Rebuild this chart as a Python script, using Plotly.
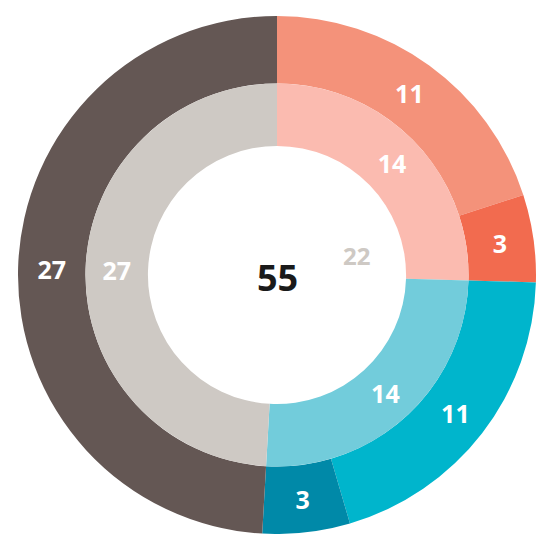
import plotly.graph_objects as go

# Outer ring
outer_labels = ["A1", "A2", "B1", "B2", "C"]
outer_values = [11, 3, 11, 3, 27]
outer_colors = ["#F4927A", "#F26B4F", "#00B5CC", "#0089A8", "#645754"]

# Inner ring
inner_labels = ["A", "B", "C"]
inner_values = [14, 14, 27]
inner_colors = ["#FBBBB0", "#72CCDB", "#CEC9C4"]

total_value = 55
side_value = 22

font_family = "Open Sans, Roboto, Arial, sans-serif"

fig = go.Figure()
fig.add_trace(go.Pie(
    labels=outer_labels, values=outer_values,
    marker=dict(colors=outer_colors, line=dict(width=0)),
    hole=0.7395, sort=False, direction="clockwise", rotation=0,
    textinfo="value", textposition="inside", insidetextorientation="horizontal",
    textfont=dict(color="white", size=25, family=font_family, weight="bold"),
    domain=dict(x=[0, 1], y=[0, 1]),
    showlegend=False, hoverinfo="label+value",
))
fig.add_trace(go.Pie(
    labels=inner_labels, values=inner_values,
    marker=dict(colors=inner_colors, line=dict(width=0)),
    hole=0.674, sort=False, direction="clockwise", rotation=0,
    textinfo="value", textposition="inside", insidetextorientation="horizontal",
    textfont=dict(color="white", size=25, family=font_family, weight="bold"),
    domain=dict(x=[0.1303, 0.8697], y=[0.1303, 0.8697]),
    showlegend=False, hoverinfo="label+value",
))

fig.add_annotation(
    text=str(total_value), x=0.5, y=0.496, xref="paper", yref="paper",
    showarrow=False, font=dict(size=36, color="#1a1a1a", family=font_family, weight="bold"),
)
fig.add_annotation(
    text=str(side_value), x=0.654, y=0.5386, xref="paper", yref="paper",
    showarrow=False, font=dict(size=24, color="#CEC9C4", family=font_family, weight="bold"),
)

fig.update_layout(
    width=539, height=534,
    margin=dict(l=18, r=3, t=16, b=0),
    paper_bgcolor="white", plot_bgcolor="white",
)

fig.write_html(
    "out.html",
    config={"displayModeBar": False},
    post_script="document.body.style.margin='0';document.body.style.overflow='hidden';",
)
